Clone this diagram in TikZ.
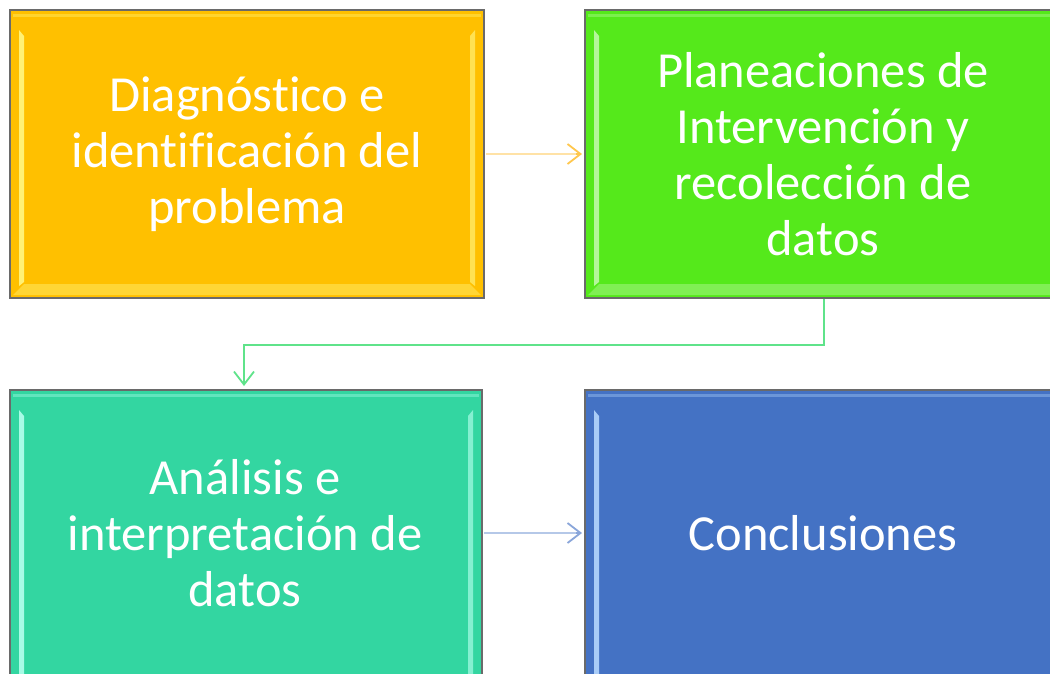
\documentclass[tikz,border=0pt]{standalone}
\usepackage{fontspec}
\setmainfont[Ligatures=NoCommon]{Carlito}
\usetikzlibrary{arrows.meta}
\definecolor{cOrange}{HTML}{FFC000}
\definecolor{cOrangeL}{HTML}{FFF176}
\definecolor{cGreen}{HTML}{55E91B}
\definecolor{cGreenL}{HTML}{B4F79A}
\definecolor{cTeal}{HTML}{33D6A1}
\definecolor{cTealL}{HTML}{A8FBE6}
\definecolor{cBlue}{HTML}{4472C4}
\definecolor{cBlueL}{HTML}{A9CCF7}
\definecolor{cBorder}{HTML}{6A6A6A}
\definecolor{cArrowO}{HTML}{FFE2A6}
\definecolor{cArrowOH}{HTML}{FFC74D}
\definecolor{cArrowG}{HTML}{5FE38A}
\definecolor{cArrowB}{HTML}{B5C8E8}
\definecolor{cArrowBH}{HTML}{8AA6DA}
\tikzset{
  x=1pt,y=1pt,
  boxtext/.style={text=white,align=center,font=\fontsize{50.5}{56}\selectfont},
  flow/.style={line width=1.6pt},
  chev/.style={-{Straight Barb[length=13pt,width=20pt,line width=1.8pt]}},
}
\begin{document}
\begin{tikzpicture}
\useasboundingbox (0,0) rectangle (1050,-673);
\clip (0,0) rectangle (1050,-673);
\fill[white] (0,0) rectangle (1050,-673);
\def\Bevel#1#2#3#4#5#6{%
  \fill[#5] (#1,#2) rectangle (#3,#4);
  \fill[#6!45!#5] (#1+3,#4+3) -- (#1+14,#4+14) -- (#3-14,#4+14) -- (#3-3,#4+3) -- cycle;
  \fill[#6!40!#5] (#1+3,#2-4) -- (#1+3,#2-7) -- (#3-3,#2-7) -- (#3-3,#2-4) -- cycle;
  \fill[#6] (#1+9,#2-20) -- (#1+14,#2-26) -- (#1+14,#4+16) -- (#1+9,#4+12) -- cycle;
  \fill[#6!70!#5] (#3-9,#2-20) -- (#3-14,#2-26) -- (#3-14,#4+16) -- (#3-9,#4+12) -- cycle;
  \draw[cBorder,line width=2.6pt] (#1,#2) rectangle (#3,#4);
}
\Bevel{10}{-10}{484}{-298}{cOrange}{cOrangeL}
\Bevel{585}{-10}{1064}{-298}{cGreen}{cGreenL}
\Bevel{10}{-390}{482}{-690}{cTeal}{cTealL}
\Bevel{585}{-390}{1064}{-690}{cBlue}{cBlueL}
\node[boxtext] (a) at (247,-154) {Diagnóstico e\\identificación del\\problema};
\node[boxtext] (b) at (823,-154) {Planeaciones de\\Intervención y\\recolección de\\datos};
\node[boxtext] (c) at (245,-533) {Análisis e\\interpretación de\\datos};
\node[boxtext] (d) at (823,-533) {Conclusiones};
\coordinate (a1) at (486,-154);
\coordinate (a2) at (582,-154);
\coordinate (b1) at (824,-299);
\coordinate (b2) at (244,-386);
\coordinate (c1) at (484,-533);
\coordinate (c2) at (582,-533);
\draw[flow,cArrowO] (a1) -- ([xshift=-3pt]a2);
\draw[flow,cArrowOH,chev] ([xshift=-6pt]a2) -- (a2);
\draw[flow,cArrowG,chev] (b1) -- (824,-345) -- (244,-345) -- (b2);
\draw[flow,cArrowB] (c1) -- ([xshift=-3pt]c2);
\draw[flow,cArrowBH,chev] ([xshift=-6pt]c2) -- (c2);
\end{tikzpicture}
\end{document}
